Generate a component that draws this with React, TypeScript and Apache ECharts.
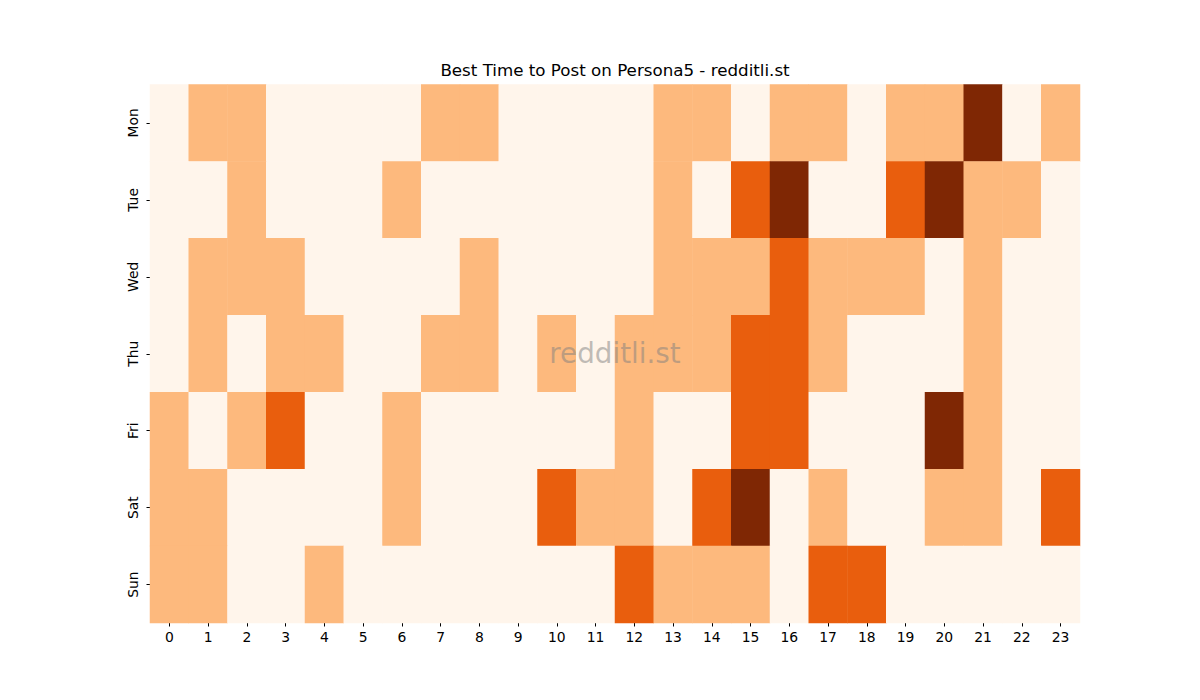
import React from 'react';
import * as echarts from 'echarts';

const days = ['Mon', 'Tue', 'Wed', 'Thu', 'Fri', 'Sat', 'Sun'];
const hours = Array.from({ length: 24 }, (_, i) => String(i));

const mon = [0, 1, 1, 0, 0, 0, 0, 1, 1, 0, 0, 0, 0, 1, 1, 0, 1, 1, 0, 1, 1, 3, 0, 1];
const tue = [0, 0, 1, 0, 0, 0, 1, 0, 0, 0, 0, 0, 0, 1, 0, 2, 3, 0, 0, 2, 3, 1, 1, 0];
const wed = [0, 1, 1, 1, 0, 0, 0, 0, 1, 0, 0, 0, 0, 1, 1, 1, 2, 1, 1, 1, 0, 1, 0, 0];
const thu = [0, 1, 0, 1, 1, 0, 0, 1, 1, 0, 1, 0, 1, 1, 1, 2, 2, 1, 0, 0, 0, 1, 0, 0];
const fri = [1, 0, 1, 2, 0, 0, 1, 0, 0, 0, 0, 0, 1, 0, 0, 2, 2, 0, 0, 0, 3, 1, 0, 0];
const sat = [1, 1, 0, 0, 0, 0, 1, 0, 0, 0, 2, 1, 1, 0, 2, 3, 0, 1, 0, 0, 1, 1, 0, 2];
const sun = [1, 1, 0, 0, 1, 0, 0, 0, 0, 0, 0, 0, 2, 1, 1, 1, 0, 2, 2, 0, 0, 0, 0, 0];
const rows = [mon, tue, wed, thu, fri, sat, sun];

const FONT = '"DejaVu Sans", sans-serif';

const App: React.FC = () => {
  const chartRef = React.useRef<HTMLDivElement>(null);

  React.useEffect(() => {
    document.body.style.margin = '0';
    if (!chartRef.current) return;
    const chart = echarts.init(chartRef.current, undefined, { renderer: 'svg' });

    const cells: number[][] = [];
    rows.forEach((row, d) => row.forEach((v, h) => cells.push([h, d, v])));

    chart.setOption({
      animation: false,
      backgroundColor: '#ffffff',
      grid: { left: 150, top: 84.5, width: 930, height: 538.5 },
      xAxis: {
        type: 'category',
        data: hours,
        axisLine: { show: false },
        axisTick: { show: true, alignWithLabel: true, length: 3.5, lineStyle: { color: '#000' } },
        axisLabel: { fontFamily: FONT, fontSize: 13.9, color: '#000', margin: 7 },
        splitLine: { show: false },
      },
      yAxis: {
        type: 'category',
        data: days,
        inverse: true,
        axisLine: { show: false },
        axisTick: { show: true, alignWithLabel: true, length: 3.5, lineStyle: { color: '#000' } },
        axisLabel: { fontFamily: FONT, fontSize: 13.9, color: '#000', rotate: 90, margin: 10 },
        splitLine: { show: false },
      },
      visualMap: {
        show: false,
        type: 'piecewise',
        pieces: [
          { value: 0, color: '#fff5eb' },
          { value: 1, color: '#fdb97d' },
          { value: 2, color: '#e95e0d' },
          { value: 3, color: '#7f2704' },
        ],
      },
      graphic: [
        {
          type: 'text',
          x: 615,
          y: 70,
          style: {
            text: 'Best Time to Post on Persona5 - redditli.st',
            fontFamily: FONT,
            fontSize: 16.7,
            fill: '#000',
            textAlign: 'center',
            textVerticalAlign: 'middle',
          },
        },
        {
          type: 'text',
          x: 615,
          y: 353,
          z: 100,
          style: {
            text: 'redditli.st',
            fontFamily: FONT,
            fontSize: 27.8,
            fill: 'rgba(128,128,128,0.5)',
            textAlign: 'center',
            textVerticalAlign: 'middle',
          },
        },
      ],
      series: [
        {
          type: 'heatmap',
          data: cells,
          itemStyle: { borderWidth: 0 },
          emphasis: { disabled: true },
        },
      ],
    });

    return () => {
      chart.dispose();
    };
  }, []);

  return <div ref={chartRef} style={{ width: 1200, height: 700 }} />;
};

export default App;
